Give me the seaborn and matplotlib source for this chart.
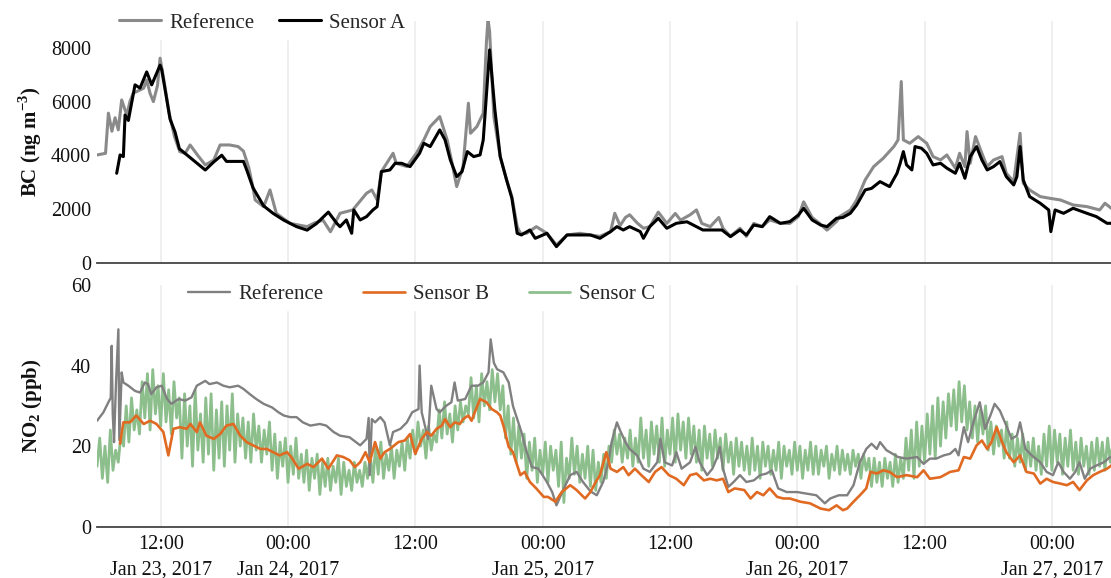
import pandas as pd
import seaborn as sns
import matplotlib.pyplot as plt

# dados: (horas desde 23/01/2017 06:00, valor)
inicio = pd.Timestamp("2017-01-23 06:00")

bc_reference = [
    (0, 4020), (0.8, 4080), (1.07, 5570), (1.4, 4900), (1.7, 5400), (2.0, 4950), (2.32, 6060), (2.8, 5500),
    (3.1, 6000), (3.4, 6310), (4.05, 6430), (4.4, 6500), (4.68, 6800), (5.0, 6300), (5.31, 6000), (5.7, 6600),
    (5.94, 7610), (6.3, 6800), (6.8, 5570), (7.3, 4700), (7.8, 4140), (8.3, 4080), (8.77, 4390), (9.5, 4000),
    (10.2, 3650), (11.0, 3830), (11.6, 4390), (12.5, 4390), (13.3, 4330), (13.8, 4160), (14.3, 3550), (14.7, 2800),
    (14.9, 2350), (15.7, 2100), (16.3, 2720), (16.9, 1850), (18.2, 1480), (19.8, 1360), (20.5, 1500), (21.3, 1600),
    (22.0, 1170), (22.9, 1855), (24.1, 1979), (25.4, 2598), (25.9, 2720), (26.4, 2350), (26.8, 3400), (27.9, 4082),
    (28.2, 3710), (29.2, 3590), (30.1, 4082), (30.8, 4577), (31.4, 5072), (32.3, 5443), (33.0, 4577), (33.4, 3834),
    (33.9, 2845), (34.5, 3587), (35.0, 5938), (35.2, 4824), (35.8, 5072), (36.4, 5567), (36.7, 8200), (36.85, 9050),
    (37.0, 8600), (37.4, 5443), (38.0, 3958), (38.6, 3093), (39.1, 2474), (39.6, 1360), (39.9, 1113), (40.5, 1113),
    (41.4, 1360), (42.4, 1113), (43.3, 680), (44.3, 1051), (45.5, 1113), (46.5, 1051), (47.4, 1000), (48.4, 1175),
    (48.8, 1855), (49.3, 1400), (49.8, 1700), (50.2, 1800), (50.9, 1500), (51.5, 1300), (52.1, 1360), (52.9, 1900),
    (53.7, 1480), (54.5, 1850), (55.0, 1600), (55.9, 1800), (56.5, 1980), (57.0, 1480), (57.8, 1360), (58.6, 1700),
    (59.0, 1300), (59.7, 1000), (60.6, 1300), (61.2, 1000), (61.9, 1480), (62.7, 1360), (63.4, 1610), (64.4, 1480),
    (65.3, 1480), (66.1, 1730), (66.6, 2280), (67.4, 1700), (68.1, 1480), (68.8, 1230), (69.7, 1550), (70.0, 1731),
    (71.0, 1979), (71.6, 2350), (72.4, 3093), (73.2, 3587), (74.1, 3896), (75.1, 4330), (75.5, 4577), (75.8, 6743),
    (76.0, 4577), (76.6, 4453), (77.4, 4700), (78.2, 4453), (78.8, 3958), (79.5, 3834), (80.1, 4020), (80.9, 3525),
    (81.3, 4082), (81.8, 3587), (82.0, 4886), (82.3, 3711), (82.8, 4700), (83.4, 4082), (83.9, 3587), (84.5, 3834),
    (85.3, 3958), (85.7, 3340), (86.4, 3030), (87.0, 4824), (87.3, 2970), (87.9, 2721), (88.9, 2474), (89.8, 2412),
    (90.8, 2350), (92.0, 2165), (93.3, 2103), (94.5, 1979), (95.0, 2227), (95.6, 2041),
]

bc_sensor_a = [
    (1.85, 3340), (2.17, 4020), (2.48, 3958), (2.64, 5500), (2.95, 5300), (3.58, 6620), (4.05, 6500), (4.68, 7100),
    (5.15, 6620), (5.62, 7050), (5.94, 7350), (6.1, 7175), (6.88, 5350), (7.35, 4870), (7.76, 4250), (10.2, 3460),
    (10.97, 3750), (11.75, 4010), (12.2, 3780), (13.8, 3780), (14.1, 3470), (14.7, 2800), (15.7, 2130), (16.6, 1850),
    (17.6, 1600), (18.8, 1360), (19.8, 1230), (20.7, 1480), (21.8, 1900), (22.6, 1480), (22.9, 1360), (23.5, 1608),
    (24.0, 1113), (24.2, 1979), (24.8, 1608), (25.4, 1731), (26.0, 1979), (26.4, 2103), (26.8, 3402), (27.6, 3463),
    (28.1, 3711), (28.7, 3711), (29.5, 3587), (30.4, 4082), (30.8, 4453), (31.4, 4330), (32.3, 4948), (32.8, 4577),
    (33.3, 3834), (33.9, 3216), (34.4, 3402), (34.9, 4144), (35.5, 3958), (36.1, 4020), (36.4, 4577), (37.0, 7917),
    (37.5, 5690), (38.0, 3958), (38.6, 3093), (39.1, 2412), (39.6, 1113), (40.0, 1051), (40.8, 1236), (41.3, 927),
    (42.4, 1113), (43.3, 618), (44.3, 1051), (45.5, 1051), (46.5, 1051), (47.4, 927), (48.4, 1175), (49.0, 1360),
    (49.6, 1236), (50.2, 1360), (51.2, 1175), (51.5, 927), (52.1, 1360), (52.9, 1670), (53.7, 1300), (54.6, 1484),
    (55.6, 1540), (56.2, 1420), (57.1, 1236), (58.1, 1236), (58.9, 1236), (59.7, 989), (60.6, 1236), (61.2, 1051),
    (61.9, 1420), (62.7, 1360), (63.4, 1731), (64.4, 1484), (65.3, 1546), (66.1, 1790), (66.6, 2040), (67.4, 1608),
    (68.2, 1420), (68.8, 1360), (69.7, 1670), (70.3, 1700), (71.0, 1855), (71.6, 2165), (72.4, 2721), (73.0, 2780),
    (73.8, 3030), (74.7, 2845), (75.4, 3340), (75.7, 3711), (76.0, 4144), (76.3, 3650), (76.8, 3463), (77.1, 4330),
    (77.7, 4270), (78.2, 4082), (78.8, 3649), (79.5, 3711), (80.1, 3530), (80.9, 3340), (81.3, 3711), (81.8, 3154),
    (82.3, 3958), (82.9, 4330), (83.4, 3834), (83.9, 3463), (84.5, 3587), (85.1, 3773), (85.7, 3216), (86.4, 2907),
    (86.7, 3216), (87.0, 4330), (87.3, 3093), (87.9, 2474), (88.9, 2227), (89.7, 1979), (89.9, 1175), (90.3, 1979),
    (91.1, 1855), (92.0, 2041), (93.3, 1855), (94.2, 1731), (95.2, 1484), (95.6, 1484),
]

no2_reference = [
    (0, 26.3), (0.6, 28.4), (1.07, 30.9), (1.29, 32), (1.38, 44.9), (1.48, 28), (1.6, 21), (1.79, 36),
    (2.01, 49), (2.1, 21.5), (2.32, 38.3), (2.48, 35.8), (2.95, 35), (3.58, 33.7), (4.05, 33.3), (4.5, 35.8),
    (4.8, 35.4), (5.1, 32.9), (5.6, 34.6), (6.1, 35), (6.6, 31.7), (7.0, 30.5), (7.7, 31.7), (8.3, 31.3),
    (8.9, 32.1), (9.4, 35), (10.2, 36.2), (10.6, 35.4), (11.3, 35.8), (11.9, 35), (12.5, 34.6), (13.3, 35),
    (13.8, 34.2), (14.4, 32.9), (15.0, 31.7), (15.7, 30.5), (16.5, 29.6), (17.1, 28.4), (17.6, 27.6), (18.2, 27.2),
    (18.8, 27.2), (19.4, 25.9), (20.1, 25.1), (21.0, 25.5), (21.6, 25.1), (22.3, 23.5), (22.9, 22.6), (23.8, 22.2),
    (24.8, 20.2), (25.4, 21.8), (25.6, 27), (25.7, 12.8), (25.9, 26.7), (26.2, 25.9), (26.7, 27.2), (27.1, 25.9),
    (27.6, 20.2), (27.9, 23.5), (28.6, 24.3), (29.2, 25.9), (29.7, 28.4), (30.3, 29.2), (30.4, 40), (30.6, 28.4),
    (31.2, 21.8), (31.5, 35), (32.0, 29.2), (32.3, 28.4), (32.9, 30), (33.4, 30.9), (33.7, 35.8), (34.0, 31.3),
    (34.7, 31.7), (35.3, 35), (35.9, 35), (36.4, 35.8), (36.9, 38.3), (37.1, 46.5), (37.4, 40.7), (37.7, 39.1),
    (38.3, 38.3), (38.8, 35.8), (39.2, 30), (39.7, 25.9), (40.0, 23.5), (40.5, 18.5), (41.0, 14.8), (41.6, 14.4),
    (42.4, 11.1), (42.9, 8.6), (43.3, 5.3), (44.0, 9.5), (44.6, 12.8), (45.2, 13.6), (45.8, 11.1), (46.5, 8.8),
    (47.1, 7.8), (47.7, 11.1), (48.2, 16), (48.5, 21), (49.0, 25.9), (49.3, 23.9), (49.8, 21), (50.2, 19.3),
    (50.9, 17.7), (51.5, 14.4), (52.1, 13.6), (52.8, 16), (53.1, 21.8), (53.5, 16), (54.2, 15.2), (54.6, 18.5),
    (55.1, 14.4), (55.9, 16), (56.4, 19.8), (56.8, 16), (57.5, 12.8), (58.0, 14.4), (58.4, 16.9), (58.7, 19.8),
    (59.0, 14.4), (59.5, 9.9), (60.0, 11.1), (60.6, 12.8), (61.2, 11.1), (61.9, 11.5), (62.5, 12.8), (63.1, 13.2),
    (63.6, 14), (64.2, 9.5), (65.0, 8.6), (66.0, 8.6), (66.9, 8.2), (67.8, 7.8), (68.6, 5.8), (69.1, 7),
    (69.9, 7.8), (70.7, 7.8), (71.3, 10.3), (71.9, 16), (72.5, 19.3), (73.0, 20.6), (73.5, 19.3), (73.8, 21),
    (74.4, 19), (75.5, 17.3), (76.3, 16.9), (77.3, 17.3), (77.9, 15.6), (78.5, 16.9), (79.1, 16.9), (79.8, 17.7),
    (80.4, 18.1), (80.9, 19.3), (81.2, 17.7), (81.7, 24.7), (82.1, 21), (82.6, 25.9), (83.2, 30.9), (83.7, 24.3),
    (84.2, 27.6), (84.6, 30.5), (85.1, 28.8), (85.7, 25.1), (86.2, 21.8), (86.7, 22.6), (87.0, 25.9), (87.5, 19.3),
    (88.1, 17.7), (88.9, 16), (89.5, 13.6), (90.1, 12.8), (90.6, 16), (91.1, 13.6), (91.7, 11.9), (92.2, 13.6),
    (92.6, 16), (93.1, 11.9), (93.6, 14.4), (94.2, 15.2), (94.9, 16), (95.5, 17.3),
]

no2_sensor_b = [
    (2.17, 20.6), (2.48, 25.9), (3.1, 25.9), (3.7, 27.6), (4.4, 25.5), (5.0, 26.3), (5.6, 25.5), (6.25, 23.5),
    (6.72, 17.7), (7.2, 24.3), (7.8, 24.7), (8.45, 24.3), (8.8, 25.5), (9.4, 23.5), (9.7, 25.9), (10.3, 22.6),
    (11.0, 21.8), (11.6, 23.0), (12.2, 25.1), (12.85, 25.5), (13.5, 22.6), (14.1, 21), (14.7, 20.2), (15.4, 19.3),
    (16.0, 19.3), (16.6, 18.5), (17.2, 17.7), (17.9, 18.5), (18.3, 17.3), (19.0, 14.4), (19.8, 15.6), (20.4, 14.8),
    (21.2, 16.9), (21.8, 14.4), (22.6, 17.7), (23.2, 17.3), (23.8, 16.5), (24.3, 14.8), (24.8, 16), (25.3, 18.5),
    (25.7, 16), (26.2, 21), (26.7, 16.9), (27.1, 18.5), (27.6, 19.3), (28.4, 21), (29.0, 21.4), (29.5, 23),
    (30.0, 18.1), (30.6, 21.8), (31.1, 23.5), (31.5, 22.6), (32.0, 24.3), (32.5, 25.1), (32.8, 26.7), (33.3, 24.7),
    (33.7, 25.9), (34.2, 25.5), (34.5, 26.7), (35.0, 27.6), (35.3, 26.3), (35.6, 28.4), (36.1, 31.7), (36.7, 30.9),
    (37.2, 29.2), (37.7, 28.4), (38.0, 27.6), (38.3, 25.1), (38.8, 19.8), (39.2, 18.5), (39.9, 12.8), (40.3, 13.6),
    (40.8, 11.1), (41.4, 9.5), (42.1, 7.4), (42.5, 7.4), (43.2, 6.2), (43.8, 8.6), (44.6, 10.3), (45.2, 9.1),
    (46.0, 7.0), (46.5, 8.6), (47.0, 11.1), (47.4, 12.8), (48.0, 18.5), (48.4, 14.4), (49.0, 13.6), (49.6, 14.8),
    (50.1, 12.8), (50.7, 14.4), (51.3, 12.8), (52.0, 11.1), (52.6, 13.6), (53.2, 14.8), (53.9, 12.8), (54.6, 11.9),
    (55.3, 10.3), (55.9, 12.8), (56.5, 13.2), (57.2, 11.5), (57.8, 11.9), (58.4, 11.5), (59.0, 11.9), (59.5, 8.6),
    (60.1, 9.5), (61.0, 9.1), (61.6, 7.0), (62.2, 8.6), (62.8, 7.8), (63.4, 9.5), (64.1, 7.4), (64.7, 7.0),
    (65.3, 7.0), (66.3, 6.2), (67.2, 5.8), (68.2, 4.5), (69.0, 4.1), (69.7, 5.3), (70.3, 4.1), (70.7, 4.5),
    (71.3, 6.2), (71.9, 7.8), (72.5, 9.5), (72.9, 13.6), (73.5, 13.2), (74.1, 14), (74.7, 13.6), (75.4, 12.3),
    (76.3, 12.8), (77.3, 12.3), (77.9, 14), (78.5, 11.9), (79.5, 12.3), (80.4, 13.6), (81.2, 14), (81.7, 17.3),
    (82.3, 16.9), (82.9, 20.2), (83.4, 21.4), (83.9, 19.3), (84.3, 21), (84.8, 24.7), (85.3, 21), (85.7, 18.5),
    (86.4, 16), (87.0, 17.7), (87.6, 13.6), (88.3, 13.2), (88.9, 10.7), (89.5, 11.9), (90.1, 11.1), (90.8, 10.7),
    (91.4, 10.3), (92.0, 11.1), (92.6, 9.1), (93.3, 11.5), (93.9, 12.8), (94.5, 13.6), (95.2, 14.4), (95.6, 15.2),
]

# sensor C: um valor a cada 15 min (muito ruidoso), uma linha = 12 h
no2_sensor_c = [
    15, 22, 12, 20, 11, 24, 14, 19, 16, 23, 20, 30, 21, 32, 24, 29, 23, 36, 27, 38, 24, 39, 28, 35,
    25, 38, 26, 34, 23, 36, 27, 32, 17, 33, 20, 30, 15, 34, 19, 28, 16, 32, 18, 33, 14, 29, 17, 31,
    15, 30, 19, 33, 16, 28, 20, 27, 17, 26, 16, 28, 19, 25, 16, 24, 18, 26, 14, 23, 12, 21, 15, 22,
    11, 20, 13, 22, 12, 18, 11, 19, 9, 17, 12, 18, 8, 16, 10, 17, 9, 15, 11, 17, 8, 16, 10, 14,
    9, 16, 11, 14, 10, 16, 12, 18, 11, 20, 13, 21, 12, 18, 14, 20, 12, 19, 15, 21, 14, 22, 17, 24,
    18, 26, 20, 24, 17, 25, 19, 23, 21, 29, 22, 31, 23, 28, 21, 30, 24, 31, 26, 30, 28, 37, 27, 35,
    26, 38, 30, 36, 29, 39, 31, 38, 29, 35, 22, 30, 18, 27, 16, 25, 17, 23, 12, 21, 14, 22, 11, 19,
    13, 21, 11, 20, 14, 19, 10, 21, 6, 17, 12, 22, 13, 20, 11, 18, 12, 20, 10, 19, 9, 16, 11, 18,
    12, 20, 16, 24, 18, 23, 16, 22, 17, 24, 15, 22, 16, 27, 17, 24, 15, 26, 18, 25, 16, 27, 15, 24,
    18, 27, 16, 28, 19, 26, 17, 27, 18, 25, 16, 24, 14, 25, 17, 23, 15, 24, 17, 22, 14, 23, 16, 21,
    13, 22, 15, 21, 14, 20, 13, 22, 14, 20, 12, 21, 15, 20, 13, 19, 14, 21, 12, 20, 15, 19, 13, 21,
    14, 20, 12, 19, 14, 21, 13, 20, 13, 19, 15, 20, 12, 18, 14, 20, 13, 19, 14, 18, 13, 19, 15, 18,
    12, 18, 14, 17, 10, 17, 11, 16, 10, 17, 12, 16, 10, 18, 11, 17, 12, 22, 14, 24, 12, 26, 15, 25,
    16, 28, 18, 30, 17, 32, 20, 31, 22, 33, 25, 34, 24, 36, 26, 35, 24, 31, 22, 30, 21, 29, 23, 30,
    19, 26, 18, 25, 20, 24, 17, 26, 17, 23, 15, 22, 16, 23, 14, 21, 15, 22, 14, 20, 13, 23, 15, 25,
    14, 24, 16, 23, 13, 22, 15, 24, 14, 21, 13, 22, 15, 20, 13, 21, 14, 22, 15, 21, 14, 22, 16, 21,
    17,
]

tick_horas = [6, 18, 30, 42, 54, 66, 78, 90]
tick_rotulos = ["12:00\nJan 23, 2017", "00:00\nJan 24, 2017", "12:00", "00:00\nJan 25, 2017",
                "12:00", "00:00\nJan 26, 2017", "12:00", "00:00\nJan 27, 2017"]


def serie(pares):
    df = pd.DataFrame(pares, columns=["h", "valor"])
    df["tempo"] = inicio + pd.to_timedelta(df["h"], unit="h")
    return df


df_c = pd.DataFrame({"h": [i * 0.25 for i in range(len(no2_sensor_c))], "valor": no2_sensor_c})
df_c["tempo"] = inicio + pd.to_timedelta(df_c["h"], unit="h")

sns.set_style("white")
plt.rcParams["font.family"] = ["Liberation Serif", "DejaVu Serif"]
plt.rcParams["mathtext.fontset"] = "custom"
plt.rcParams["mathtext.rm"] = "Liberation Serif"
plt.rcParams["mathtext.bf"] = "Liberation Serif:bold"

W, H = 1111, 578
fig = plt.figure(figsize=(W / 100, H / 100), dpi=100)
x0 = 96.7 / W
ax1 = fig.add_axes([x0, 1 - 263.3 / H, 1 - x0, (263.3 - 20.7) / H])
ax2 = fig.add_axes([x0, 1 - 526.7 / H, 1 - x0, (526.7 - 285) / H])

# painel de cima: BC
sns.lineplot(data=serie(bc_reference), x="tempo", y="valor", ax=ax1, color="#8a8a8a", lw=2.2,
             label="Reference", errorbar=None, sort=False)
sns.lineplot(data=serie(bc_sensor_a), x="tempo", y="valor", ax=ax1, color="black", lw=2.2,
             label="Sensor A", errorbar=None, sort=False)

# painel de baixo: NO2
sns.lineplot(data=df_c, x="tempo", y="valor", ax=ax2, color="#8dbf8d", lw=2.0,
             label="Sensor C", errorbar=None, sort=False, zorder=1)
sns.lineplot(data=serie(no2_reference), x="tempo", y="valor", ax=ax2, color="#808080", lw=1.7,
             label="Reference", errorbar=None, sort=False, zorder=2)
sns.lineplot(data=serie(no2_sensor_b), x="tempo", y="valor", ax=ax2, color="#e06a22", lw=1.9,
             label="Sensor B", errorbar=None, sort=False, zorder=3)

ticks = [inicio + pd.Timedelta(hours=h) for h in tick_horas]
for ax in [ax1, ax2]:
    ax.set_xlim(inicio - pd.Timedelta(minutes=2), inicio + pd.Timedelta(hours=95.57))
    ax.set_xticks(ticks)
    ax.grid(axis="x", color="#ececec", lw=1.2)
    ax.grid(axis="y", visible=False)
    ax.set_axisbelow(True)
    for s in ["left", "right", "top"]:
        ax.spines[s].set_visible(False)
    ax.spines["bottom"].set_color("#444444")
    ax.spines["bottom"].set_linewidth(1.3)
    ax.tick_params(length=0, labelsize=14.5, colors="#111111")
    ax.tick_params(axis="y", pad=4)
    ax.set_xlabel("")

ax1.set_xticklabels([""] * len(ticks))
ax2.set_xticklabels(tick_rotulos)
ax2.tick_params(axis="x", pad=6)
for lbl in ax2.get_xticklabels():
    lbl.set_linespacing(1.45)

ax1.set_ylim(0, 9000)
ax1.set_yticks([0, 2000, 4000, 6000, 8000])
ax2.set_ylim(0, 60)
ax2.set_yticks([0, 20, 40, 60])

ax1.set_ylabel("BC (ng m$^{\\mathbf{-3}}$)", fontsize=15, fontweight="bold", color="#111111")
ax2.set_ylabel("NO$_{\\mathbf{2}}$ (ppb)", fontsize=15, fontweight="bold", color="#111111")
ax1.yaxis.set_label_coords(-0.052, 0.5)
ax2.yaxis.set_label_coords(-0.052, 0.5)

# legendas horizontais no topo de cada painel
h1, l1 = ax1.get_legend_handles_labels()
ax1.legend(h1, l1, loc="center left", bbox_to_anchor=(113 / W, 1 - 23 / H), bbox_transform=fig.transFigure,
           ncol=2, frameon=True, facecolor="white", edgecolor="white", framealpha=1, fontsize=15,
           handlelength=2.0, handletextpad=0.4, columnspacing=1.2, borderpad=0.3, borderaxespad=0)

h2, l2 = ax2.get_legend_handles_labels()
ordem = [l2.index("Reference"), l2.index("Sensor B"), l2.index("Sensor C")]
ax2.legend([h2[i] for i in ordem], [l2[i] for i in ordem], loc="center left",
           bbox_to_anchor=(182 / W, 1 - 294 / H), bbox_transform=fig.transFigure,
           ncol=3, frameon=True, facecolor="white", edgecolor="white", framealpha=1, fontsize=15,
           handlelength=2.0, handletextpad=0.4, columnspacing=1.9, borderpad=0.3, borderaxespad=0)

fig.savefig("out.png", dpi=100)
